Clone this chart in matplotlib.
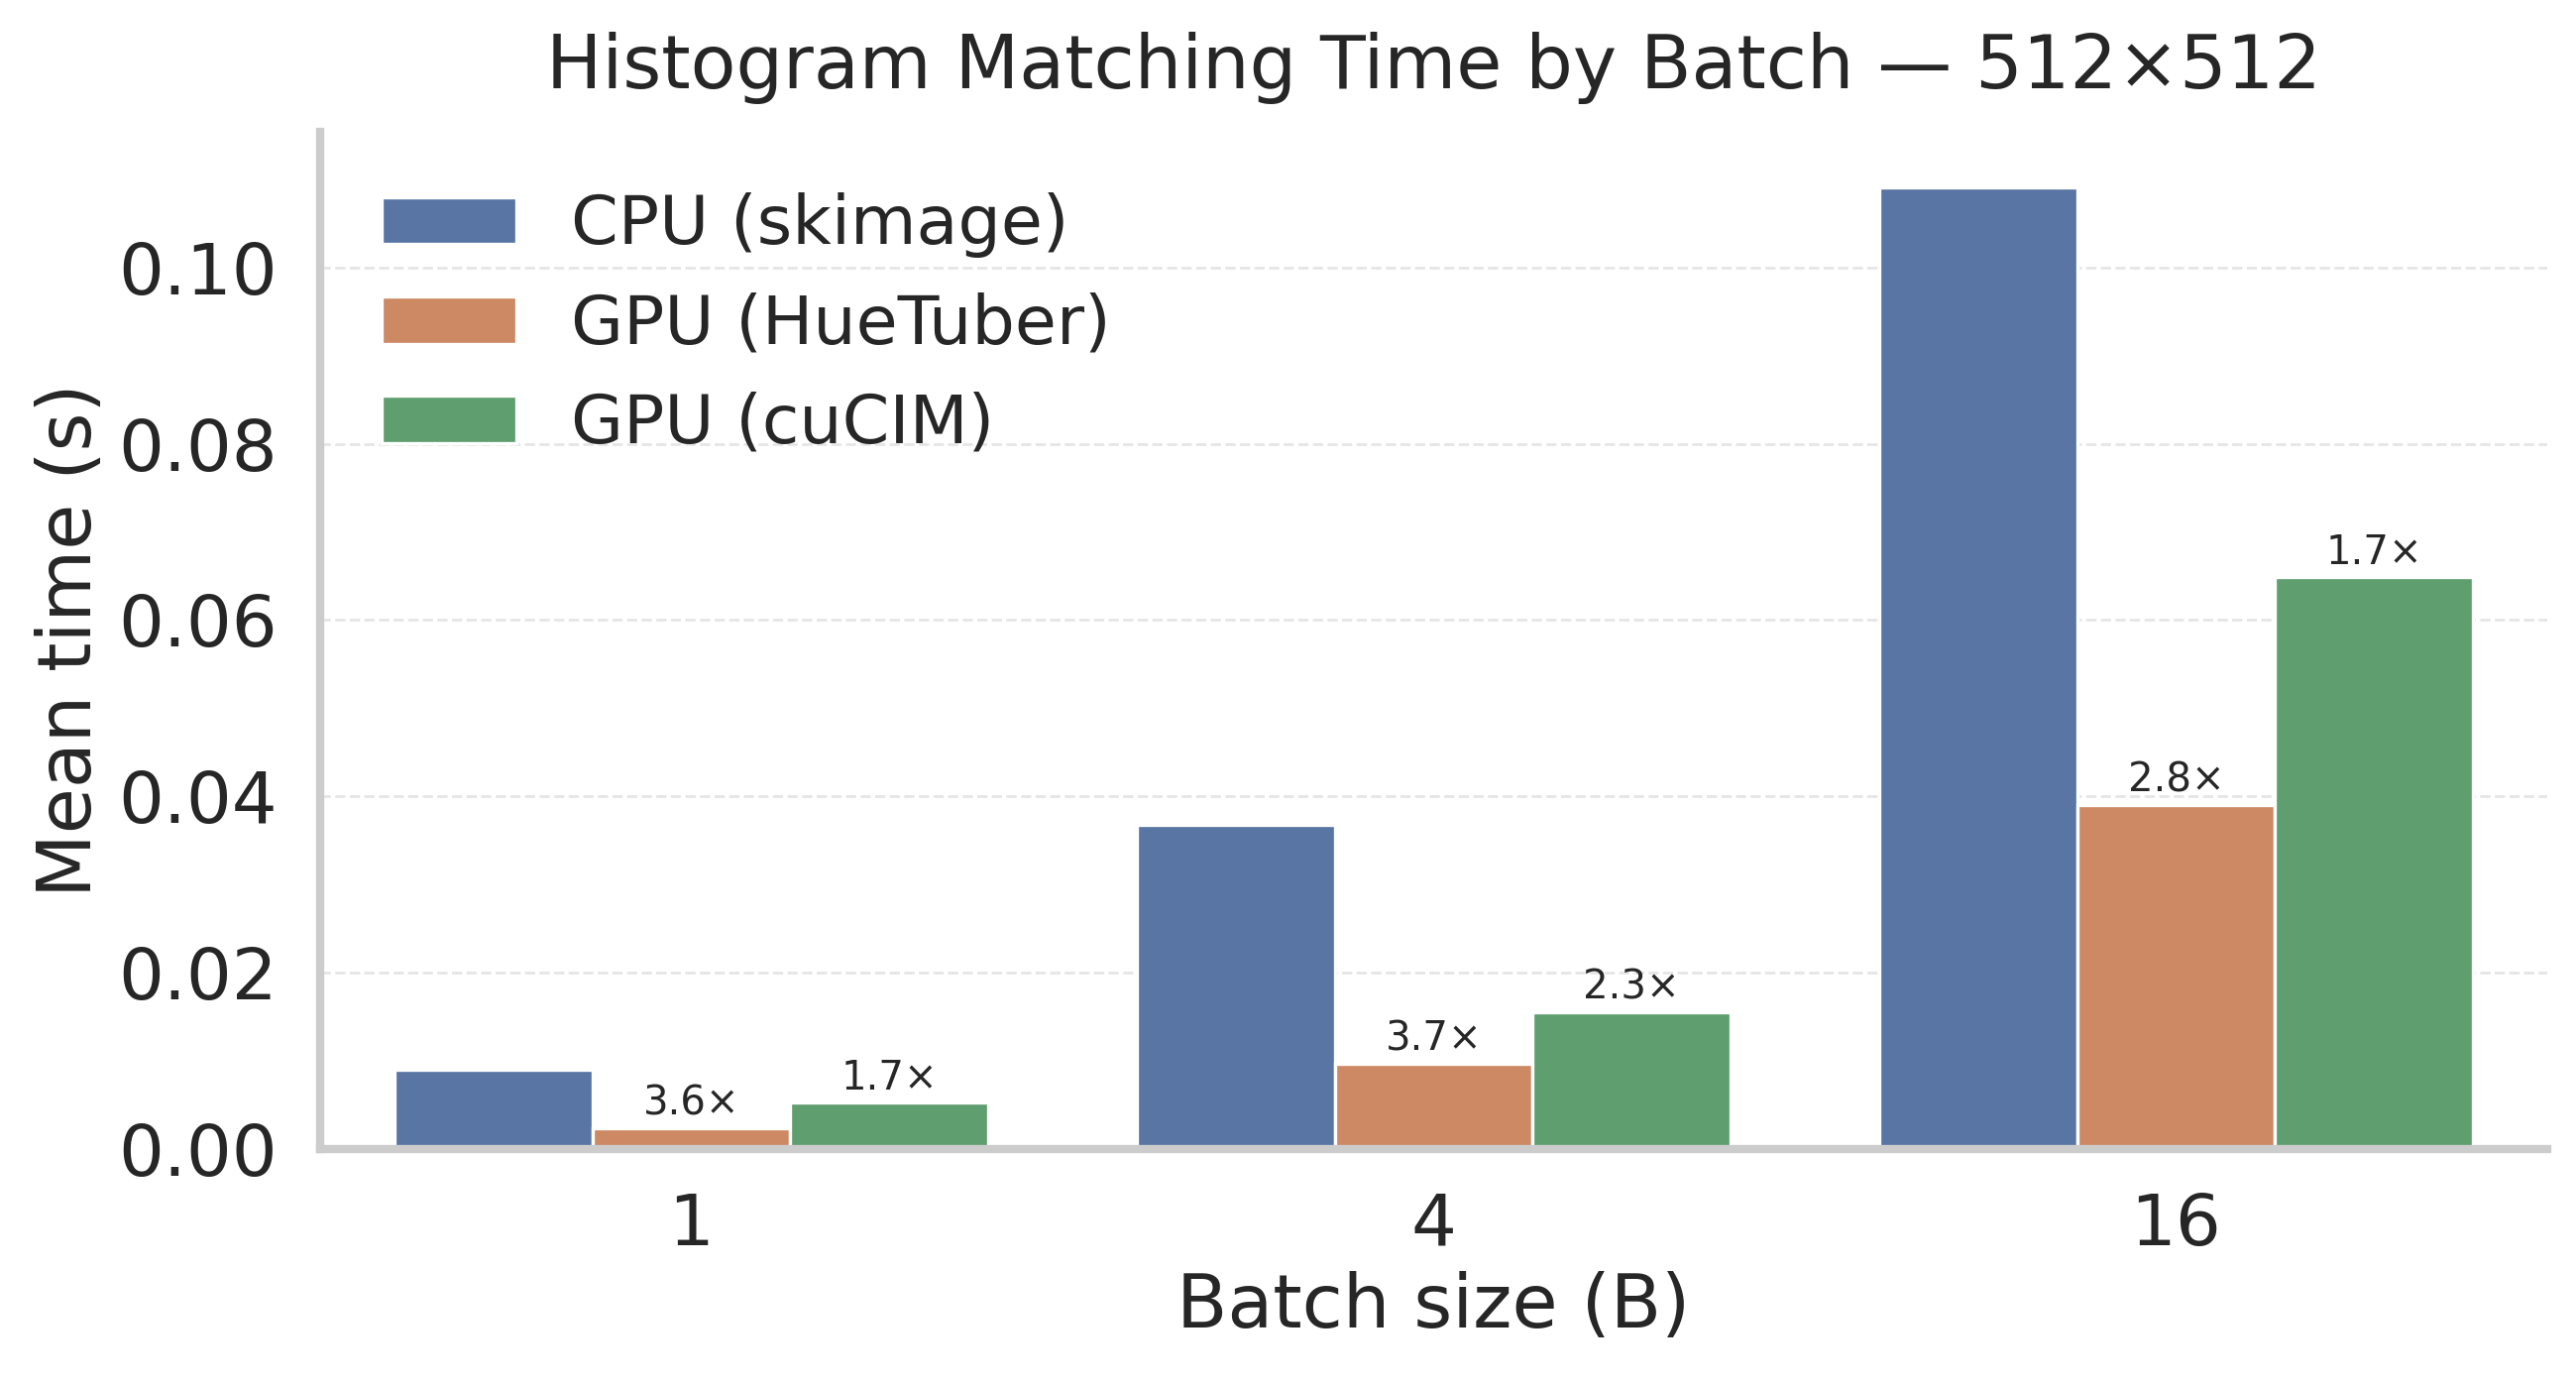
#!/usr/bin/env python3
import numpy as np
import matplotlib
matplotlib.use('Agg')
import matplotlib.pyplot as plt
import seaborn as sns

# Timings (seconds)
batch_sizes = ['1', '4', '16']
methods = ['CPU (skimage)', 'GPU (HueTuber)', 'GPU (cuCIM)']
cpu_times = [0.00895, 0.03675, 0.1091]
huetuber_times = [0.00231, 0.00962, 0.0390]
cucim_times = [0.00523, 0.01551, 0.0649]
huetuber_speedup = ['3.6×', '3.7×', '2.8×']
cucim_speedup = ['1.7×', '2.3×', '1.7×']

colors = ['#5875a4', '#cc8963', '#5f9e6e']


def plot_timings():
    sns.set_theme(style='whitegrid', context='poster', font_scale=1.1)
    plt.rcParams['font.family'] = ['DejaVu Sans']

    fig = plt.figure(figsize=(12.995, 6.985), dpi=200)
    ax = fig.add_axes([0.1243, 0.1707, 0.8645, 0.7341])

    x = np.arange(len(batch_sizes))
    width = 0.8 / 3
    series = [cpu_times, huetuber_times, cucim_times]
    containers = []
    for i, (vals, name) in enumerate(zip(series, methods)):
        bars = ax.bar(x + (i - 1) * width, vals, width, color=colors[i],
                      edgecolor='white', linewidth=1.2, label=name, zorder=2)
        containers.append(bars)

    # speedup labels over the GPU bars
    for bars, labels in [(containers[1], huetuber_speedup),
                         (containers[2], cucim_speedup)]:
        for rect, lab in zip(bars, labels):
            ax.annotate(lab, (rect.get_x() + rect.get_width() / 2, rect.get_height()),
                        xytext=(0, 1.5), textcoords='offset points',
                        ha='center', va='bottom', fontsize=14.5, color='#262626')

    ax.set_xticks(x)
    ax.set_xticklabels(batch_sizes)
    ax.set_xlim(-0.5, 2.5)
    ax.set_ylim(0, 0.1154)
    ax.set_yticks([0, 0.02, 0.04, 0.06, 0.08, 0.10])
    ax.set_yticklabels(['0.00', '0.02', '0.04', '0.06', '0.08', '0.10'])
    ax.tick_params(labelsize=26)

    ax.set_xlabel('Batch size (B)', fontsize=27)
    ax.set_ylabel('Mean time (s)', fontsize=27)
    ax.set_title('Histogram Matching Time by Batch — 512×512', fontsize=27, pad=16)

    ax.grid(False)
    ax.yaxis.grid(True, linestyle='--', linewidth=1, alpha=0.5, zorder=0)
    ax.set_axisbelow(True)
    sns.despine(ax=ax)
    for side in ['left', 'bottom']:
        ax.spines[side].set_linewidth(3)
        ax.spines[side].set_color('#cccccc')
        ax.spines[side].set_zorder(3)

    ax.legend(loc='upper left', frameon=False, fontsize=24.6)
    return fig


def main():
    fig = plot_timings()
    fig.savefig('out.png', dpi=200)


if __name__ == '__main__':
    main()
